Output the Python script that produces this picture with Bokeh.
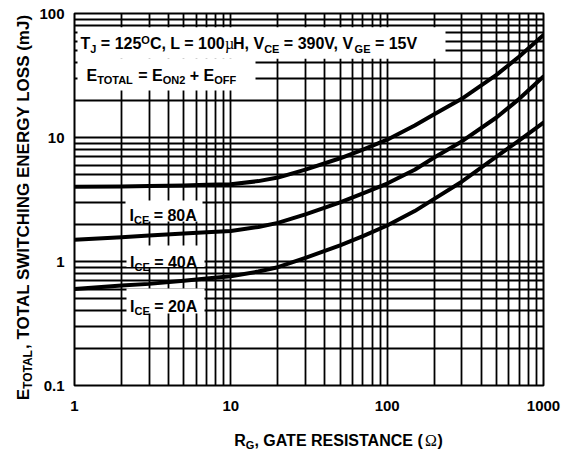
import math
from bokeh.plotting import figure
from bokeh.layouts import row, column
from bokeh.models import Range1d, FixedTicker, Label, BoxAnnotation, CustomJSTickFormatter
from bokeh.embed import file_html
from bokeh.resources import INLINE

# ---------------- data ----------------
rg = [1, 2, 3, 5, 7, 10, 15, 20, 30, 50, 70, 100, 150, 200, 300, 500, 700, 1000]
e_80a = [4.0, 4.03, 4.06, 4.1, 4.15, 4.2, 4.45, 4.75, 5.5, 6.8, 8.0, 9.6, 12.5, 15.4, 20.5, 32, 45, 67]
e_40a = [1.5, 1.57, 1.62, 1.68, 1.72, 1.76, 1.9, 2.05, 2.4, 3.0, 3.55, 4.25, 5.5, 6.9, 9.3, 14.5, 20.5, 31]
e_20a = [0.6, 0.64, 0.66, 0.7, 0.73, 0.76, 0.83, 0.9, 1.07, 1.35, 1.6, 1.95, 2.55, 3.2, 4.4, 7.0, 9.5, 13.2]
curve_labels = ["80A", "40A", "20A"]

x_ticks = [1, 10, 100, 1000]
y_ticks = [0.1, 1, 10, 100]
x_minor = [m * 10 ** d for d in range(0, 3) for m in range(2, 10)]
y_minor = [m * 10.0 ** d for d in range(-1, 2) for m in range(2, 10)]

FONT = "Liberation Sans"
SYM_FONT = "Liberation Serif"

p = figure(x_axis_type="log", y_axis_type="log",
           x_range=Range1d(1, 1000), y_range=Range1d(0.1, 100),
           frame_width=469, frame_height=372,
           min_border_left=36, min_border_right=23, min_border_top=13, min_border_bottom=32,
           output_backend="svg", toolbar_location=None,
           background_fill_color="white", border_fill_color="white")

p.outline_line_color = "black"
p.outline_line_width = 2
p.outline_line_alpha = 1

fmt = CustomJSTickFormatter(code="return tick.toString();")
for ax, tk, mn in ((p.xaxis[0], x_ticks, x_minor), (p.yaxis[0], y_ticks, y_minor)):
    ax.ticker = FixedTicker(ticks=tk, minor_ticks=mn)
    ax.formatter = fmt
    ax.axis_line_color = None
    ax.major_tick_line_color = None
    ax.minor_tick_line_color = None
    ax.major_tick_out = 0
    ax.major_tick_in = 0
    ax.minor_tick_out = 0
    ax.major_label_text_font = FONT
    ax.major_label_text_font_style = "bold"
    ax.major_label_text_font_size = "15px"
    ax.major_label_text_color = "black"
p.xaxis.major_label_standoff = 15
p.yaxis.major_label_standoff = 10

for g in (p.xgrid[0], p.ygrid[0]):
    g.grid_line_color = "black"
    g.grid_line_width = 1.8
    g.grid_line_alpha = 1
    g.minor_grid_line_color = "black"
    g.minor_grid_line_width = 1.8
    g.minor_grid_line_alpha = 1

for e in (e_80a, e_40a, e_20a):
    p.line(rg, e, line_color="black", line_width=4, line_join="round", line_cap="round")


def blank_fig(w, h):
    f = figure(width=w, height=h, min_border=0, x_axis_location=None, y_axis_location=None,
               toolbar_location=None, output_backend="svg", x_range=Range1d(0, 1), y_range=Range1d(0, 1),
               background_fill_color="white", border_fill_color="white")
    f.outline_line_color = None
    for g in f.grid:
        g.visible = False
    return f


fig_y = blank_fig(36, 451)
fig_x = blank_fig(528, 34)

# ---------------- rich text helper ----------------
BOLD_W = {' ': 278, ',': 278, '.': 278, '(': 333, ')': 333, '+': 584, '=': 584,
          'A': 722, 'B': 722, 'C': 722, 'D': 722, 'E': 667, 'F': 611, 'G': 778, 'H': 722,
          'I': 278, 'J': 556, 'K': 722, 'L': 611, 'M': 833, 'N': 722, 'O': 778, 'P': 667,
          'R': 722, 'S': 667, 'T': 611, 'U': 722, 'V': 667, 'W': 944, 'Y': 667, 'm': 889}
SYM_W = {'\u03a9': 768, '\u00b5': 500}
NBSP = "\u00a0"


def text_w(s, size, sym=False):
    tot = 0
    for ch in s:
        if sym:
            tot += SYM_W.get(ch, 500)
        elif ch.isdigit():
            tot += 556
        else:
            tot += BOLD_W.get(ch, 667)
    return tot * size / 1000.0


def part_size(role, size):
    return size if role in ("n", "sym") else round(size * 0.7)


def rich_width(parts, size):
    return sum(text_w(t, part_size(r, size), r == "sym") for t, r in parts)


def keep_spaces(t):
    n_lead = len(t) - len(t.lstrip(" "))
    n_trail = len(t) - len(t.rstrip(" "))
    core = t.strip(" ")
    return NBSP * n_lead + core + NBSP * n_trail


def rich(fig, x, y, parts, size=16, angle=0.0, align="left"):
    ux, uy = math.cos(angle), math.sin(angle)
    dx, dy = math.sin(angle), -math.cos(angle)
    total = rich_width(parts, size)
    pos = {"left": 0.0, "center": -total / 2, "right": -total}[align]
    for t, r in parts:
        fs = part_size(r, size)
        shift = {"n": 0, "sym": 0, "sub": size * 0.3, "sup": -size * 0.25}[r]
        fig.add_layout(Label(x=x + ux * pos + dx * shift, y=y + uy * pos + dy * shift,
                             x_units="screen", y_units="screen", text=keep_spaces(t), angle=angle,
                             text_font=SYM_FONT if r == "sym" else FONT,
                             text_font_style="normal" if r == "sym" else "bold",
                             text_font_size=f"{fs}px", text_color="black",
                             text_baseline="alphabetic", text_align="left"))
        pos += text_w(t, fs, r == "sym")
    return total


def white_box(left, right, bottom, top):
    p.add_layout(BoxAnnotation(left=left, right=right, bottom=bottom, top=top,
                               left_units="screen", right_units="screen",
                               bottom_units="screen", top_units="screen",
                               fill_color="white", fill_alpha=1, line_color=None))


# conditions box
white_box(3, 371, 326.7, 358.3)
rich(p, 6, 341.7, [("T", "n"), ("J", "sub"), (" = 125", "n"), ("O", "sup"), ("C, L = 100", "n"),
                   ("\u00b5", "sym"), ("H, V", "n"), ("CE", "sub"), (" = 390V, V", "n"),
                   ("GE", "sub"), (" = 15V", "n")])
white_box(3, 181, 295, 326.7)
rich(p, 12, 310, [("E", "n"), ("TOTAL", "sub"), (" = E", "n"), ("ON2", "sub"), (" + E", "n"), ("OFF", "sub")])

# current labels
lab_pos = [(51, 128, 164, 185, 55, 170), (52, 130, 118.5, 140, 55.5, 123.3), (52, 130, 72, 97, 55.5, 79)]
for name, (l, r, b, t, tx, ty) in zip(curve_labels, lab_pos):
    white_box(l, r, b, t)
    rich(p, tx, ty, [("I", "n"), ("CE", "sub"), (" = " + name, "n")])

# axis titles (in their own strips beside the plot)
rich(fig_x, 264, 11.5, [("R", "n"), ("G", "sub"), (", GATE RESISTANCE (", "n"), ("\u03a9", "sym"), (")", "n")],
     align="center")
rich(fig_y, 22.5, 245, [("E", "n"), ("TOTAL", "sub"), (", TOTAL SWITCHING ENERGY LOSS (mJ)", "n")],
     size=17, angle=math.pi / 2, align="center")

layout = row(fig_y, column(p, fig_x))
open("out.html", "w").write(file_html(layout, INLINE))
